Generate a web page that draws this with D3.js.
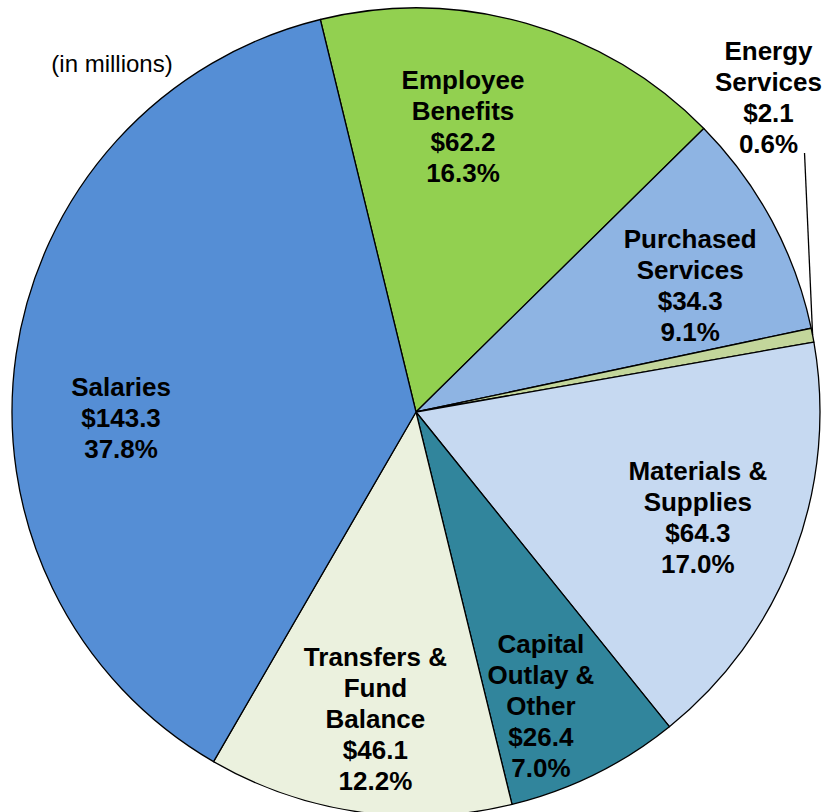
<!DOCTYPE html>
<html>
<head>
<meta charset="utf-8">
<script src="https://cdn.jsdelivr.net/npm/d3@7"></script>
<style>
  body { margin: 0; background: #fff; }
  svg { display: block; }
  text { font-family: "Liberation Sans", Arial, sans-serif; }
</style>
</head>
<body>
<svg width="839" height="812"></svg>
<script>
// categories in clockwise order, starting from Employee Benefits
var categories = ['Employee Benefits', 'Purchased Services', 'Energy Services', 'Materials & Supplies',
                  'Capital Outlay & Other', 'Transfers & Fund Balance', 'Salaries'];
var nameLines = [['Employee', 'Benefits'], ['Purchased', 'Services'], ['Energy', 'Services'],
                 ['Materials &', 'Supplies'], ['Capital', 'Outlay &', 'Other'],
                 ['Transfers &', 'Fund', 'Balance'], ['Salaries']];
var amounts = [62.2, 34.3, 2.1, 64.3, 26.4, 46.1, 143.3];
var percents = ['16.3%', '9.1%', '0.6%', '17.0%', '7.0%', '12.2%', '37.8%'];
var colors = ['#92D050', '#8EB4E3', '#C3D69B', '#C6D9F1', '#31859C', '#EBF1DE', '#558ED5'];

// label nudges from the mid-angle point (layout only)
var nudges = [[-35, 3], [10, 15], [58, -258], [1, 0], [-8, 25], [2, 10], [2, 48]];

var cx = 416, cy = 412, R = 404;
var fs = 26, lh = 31;

var svg = d3.select('svg');
var g = svg.append('g').attr('transform', 'translate(' + cx + ',' + cy + ')');

var pie = d3.pie().sort(null).value(function(d) { return d; })
    .startAngle(-13.7 * Math.PI / 180).endAngle(-13.7 * Math.PI / 180 + 2 * Math.PI);
var arcs = pie(amounts);

var arc = d3.arc().innerRadius(0).outerRadius(R);
var labelArc = d3.arc().innerRadius(300).outerRadius(300);
var edgeArc = d3.arc().innerRadius(R).outerRadius(R);

g.selectAll('path.slice').data(arcs).enter().append('path')
    .attr('class', 'slice')
    .attr('d', arc)
    .attr('fill', function(d, i) { return colors[i]; })
    .attr('stroke', '#000')
    .attr('stroke-width', 1.3)
    .attr('stroke-linejoin', 'round');

// label positions
var pos = arcs.map(function(d, i) {
  var c = labelArc.centroid(d);
  return [c[0] + nudges[i][0], c[1] + nudges[i][1]];
});

// leader line for the small Energy slice
var e = edgeArc.centroid(arcs[2]);
g.append('line')
    .attr('x1', e[0]).attr('y1', e[1])
    .attr('x2', pos[2][0] + 36).attr('y2', pos[2][1] + 56)
    .attr('stroke', '#000').attr('stroke-width', 1.3);

arcs.forEach(function(d, i) {
  var lines = nameLines[i].concat(['$' + amounts[i].toFixed(1), percents[i]]);
  var t = g.append('text')
      .attr('text-anchor', 'middle')
      .attr('font-size', fs)
      .attr('font-weight', 'bold')
      .attr('fill', '#000');
  var n = lines.length;
  lines.forEach(function(s, k) {
    t.append('tspan')
        .attr('x', pos[i][0])
        .attr('y', pos[i][1] + (k - (n - 1) / 2) * lh + 9.3)
        .text(s);
  });
});

svg.append('text')
    .attr('x', 112).attr('y', 72)
    .attr('text-anchor', 'middle')
    .attr('font-size', 24)
    .attr('fill', '#000')
    .text('(in millions)');
</script>
</body>
</html>
